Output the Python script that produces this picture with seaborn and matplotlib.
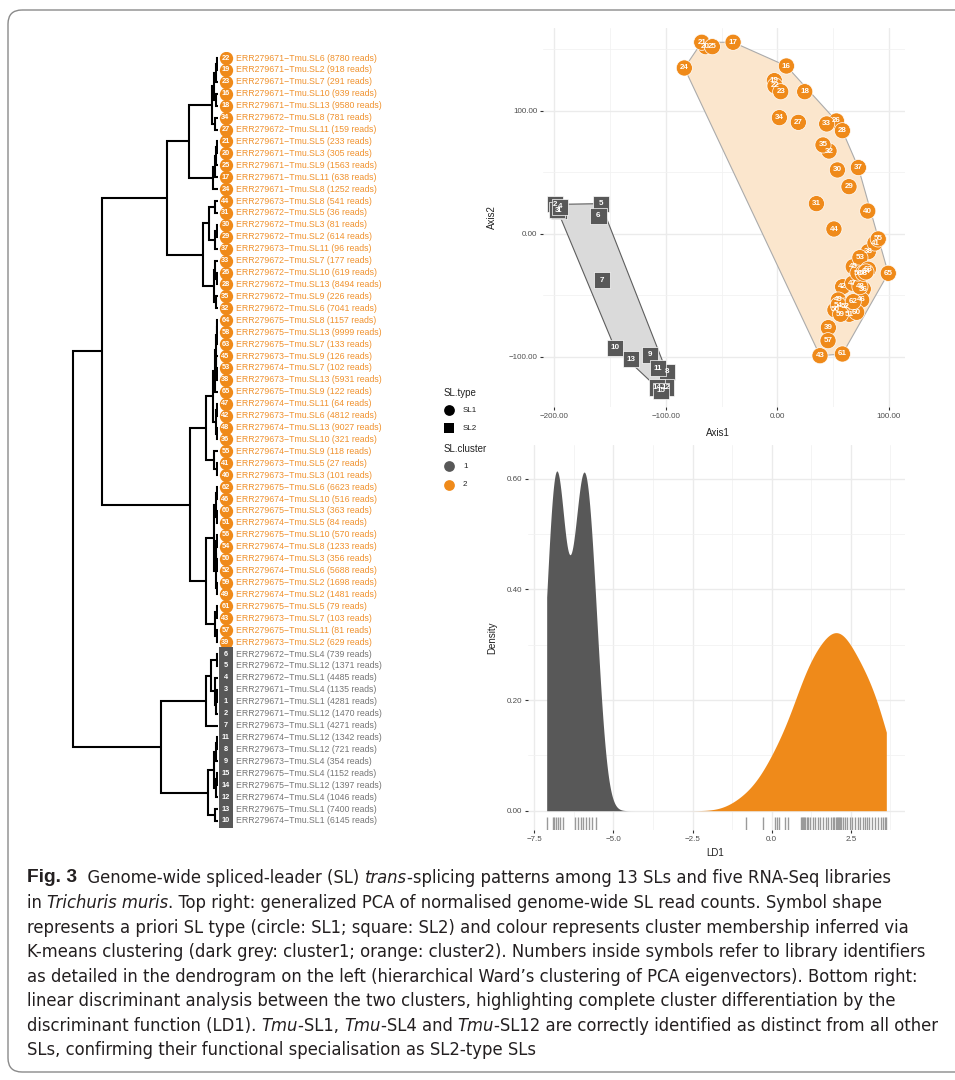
import numpy as np
import pandas as pd
import matplotlib
matplotlib.use('Agg')
import matplotlib.pyplot as plt
import seaborn as sns
from matplotlib import font_manager
from matplotlib.font_manager import FontProperties
from matplotlib.patches import FancyBboxPatch, Polygon

# ---------------- data ----------------
# dendrogram leaves, top to bottom
leaf_ids = [22, 19, 23, 16, 18, 34, 27, 21, 20, 25, 17, 24, 44, 31, 30, 29, 37,
            33, 26, 28, 35, 32, 64, 58, 63, 45, 53, 38, 65, 47, 42, 48, 36, 55,
            41, 40, 62, 46, 60, 51, 56, 54, 50, 52, 59, 49, 61, 43, 57, 39,
            6, 5, 4, 3, 1, 2, 7, 11, 8, 9, 15, 14, 12, 13, 10]
leaf_run = [71, 71, 71, 71, 71, 72, 72, 71, 71, 71, 71, 71, 73, 72, 72, 72, 73,
            72, 72, 72, 72, 72, 75, 75, 75, 73, 74, 73, 75, 74, 73, 74, 73, 74,
            73, 73, 75, 74, 75, 74, 75, 74, 74, 74, 75, 74, 75, 73, 75, 73,
            72, 72, 72, 71, 71, 71, 73, 74, 73, 73, 75, 75, 74, 75, 74]
leaf_sl = [6, 2, 7, 10, 13, 8, 11, 5, 3, 9, 11, 8, 8, 5, 3, 2, 11,
           7, 10, 13, 9, 6, 8, 13, 7, 9, 7, 13, 9, 11, 6, 13, 10, 9,
           5, 3, 6, 10, 3, 5, 10, 8, 3, 6, 2, 2, 5, 7, 11, 2,
           4, 12, 1, 4, 1, 12, 1, 12, 12, 4, 4, 12, 4, 1, 1]
leaf_reads = [8780, 918, 291, 939, 9580, 781, 159, 233, 305, 1563, 638, 1252,
              541, 36, 81, 614, 96, 177, 619, 8494, 226, 7041,
              1157, 9999, 133, 126, 102, 5931, 122, 64, 4812, 9027, 321, 118, 27, 101,
              6623, 516, 363, 84, 570, 1233, 356, 5688, 1698, 1481, 79, 103, 81, 629,
              739, 1371, 4485, 1135, 4281, 1470, 4271, 1342, 721, 354, 1152, 1397,
              1046, 7400, 6145]

# Ward merges: (node, left, right, height)
merges = [
    ('a', 22, 19, 1.0), ('b', 'a', 23, 1.8), ('c', 16, 18, 2.5), ('d', 'b', 'c', 4.0),
    ('e', 34, 27, 3.0), ('A1', 'd', 'e', 6.3),
    ('f', 21, 20, 1.0), ('g', 'f', 25, 1.8), ('h', 'g', 17, 2.8), ('A2', 'h', 24, 5.0),
    ('A', 'A1', 'A2', 29.0),
    ('i', 44, 31, 3.0), ('j', 30, 29, 1.5), ('k', 'j', 37, 3.5), ('B1', 'i', 'k', 9.3),
    ('l', 26, 28, 1.5), ('m', 33, 'l', 3.0), ('n', 35, 32, 2.0), ('B2', 'm', 'n', 4.3),
    ('B', 'B1', 'B2', 15.3), ('AB', 'A', 'B', 51.3),
    ('o', 64, 58, 1.0), ('p', 'o', 63, 1.5), ('q', 53, 38, 1.0), ('r', 45, 'q', 1.8),
    ('s', 'p', 'r', 2.5), ('t', 's', 65, 3.5),
    ('u', 47, 42, 1.5), ('v', 48, 36, 1.2), ('w', 'u', 'v', 2.5), ('C1a', 't', 'w', 5.5),
    ('x', 41, 40, 1.5), ('C1b', 55, 'x', 3.7), ('C1', 'C1a', 'C1b', 12.3),
    ('y', 62, 46, 1.0), ('z', 60, 51, 1.0), ('aa', 'y', 'z', 1.8), ('bb', 56, 54, 1.0),
    ('cc', 50, 52, 1.0), ('dd', 'bb', 'cc', 1.8), ('ee', 59, 49, 1.2), ('ff', 'dd', 'ee', 2.5),
    ('C2a', 'aa', 'ff', 4.5),
    ('gg', 61, 43, 1.5), ('hh', 57, 39, 1.2), ('C2b', 'gg', 'hh', 3.0), ('C2', 'C2a', 'C2b', 12.3),
    ('C', 'C1', 'C2', 28.0), ('O', 'AB', 'C', 116.3),
    ('ii', 6, 5, 1.5), ('jj', 3, 1, 1.0), ('kk', 'jj', 2, 1.8), ('ll', 4, 'kk', 3.0),
    ('G1a', 'ii', 'll', 7.0), ('G1', 'G1a', 7, 12.3),
    ('mm', 11, 8, 1.0), ('nn', 'mm', 9, 2.0), ('oo', 15, 14, 1.0), ('pp', 'oo', 12, 2.0),
    ('G2a', 'nn', 'pp', 4.0), ('qq', 13, 10, 3.0), ('G2', 'G2a', 'qq', 10.3),
    ('G', 'G1', 'G2', 57.3), ('root', 'O', 'G', 145.3),
]

# PCA coordinates, libraries 1..65
pca_ids = list(range(1, 66))
pca_x = [-196.0, -199.3, -197.2, -194.8, -158.3, -160.4, -156.9, -99.2, -114.4, -145.8,
         -107.0, -100.1, -131.5, -107.6, -104.6,
         8.1, -39.7, 24.5, -2.7, -64.2, -67.8, -2.1, 3.0, -83.4, -58.3,
         52.9, 18.8, 58.3, 64.2, 53.8, 35.0, 46.3, 44.2, 1.8, 40.9,
         77.0, 72.6, 81.5, 45.7, 81.0, 87.5, 58.5, 38.2, 50.7, 68.0,
         75.6, 67.5, 74.0, 54.6, 51.6, 64.4, 60.6, 74.0, 54.6, 90.4,
         72.2, 45.4, 77.0, 56.7, 71.1, 58.3, 68.0, 81.5, 79.4, 99.4]
pca_y = [18.5, 23.8, 19.2, 21.9, 24.4, 14.4, -37.7, -112.2, -98.6, -92.7,
         -109.5, -125.1, -101.9, -125.1, -127.8,
         136.3, 155.6, 115.4, 124.4, 152.0, 155.6, 120.1, 115.4, 134.7, 152.0,
         91.6, 90.5, 83.7, 38.2, 51.8, 24.4, 67.2, 89.2, 94.3, 72.1,
         -45.0, 53.7, -14.6, -76.4, 18.4, -7.6, -43.1, -99.2, 3.8, -26.8,
         -53.9, -40.3, -43.1, -53.9, -62.0, -65.5, -58.8, -19.5, -58.0, -4.3,
         -32.0, -87.0, -32.2, -65.5, -63.9, -97.8, -55.3, -28.9, -31.1, -32.2]

# LDA scores (rug)
ld1_cluster1 = [-7.11, -6.92, -6.87, -6.82, -6.76, -6.69, -6.60,
                -6.22, -6.12, -6.03, -5.95, -5.87, -5.78, -5.68, -5.55]
ld1_cluster2 = [-0.82, -0.27, 0.10, 0.17, 0.24, 0.42, 0.50,
                0.92, 0.95, 0.98, 1.02, 1.06, 1.10, 1.14, 1.21, 1.29, 1.37, 1.45, 1.53, 1.61,
                1.70, 1.79, 1.87, 1.93, 1.98, 2.02, 2.05, 2.08, 2.11, 2.15, 2.19, 2.24,
                2.30, 2.38, 2.46, 2.55, 2.64,
                2.72, 2.80, 2.87, 2.94, 3.00,
                3.07, 3.16, 3.26, 3.36, 3.45, 3.52, 3.57, 3.62]
kde_adjust = [1.0, 1.15]   # bandwidth multiplier per cluster

caption_lines = [
    [('Fig. 3', 'b'), ('  Genome-wide spliced-leader (SL) ', 'n'), ('trans', 'i'),
     ('-splicing patterns among 13 SLs and five RNA-Seq libraries', 'n')],
    [('in ', 'n'), ('Trichuris muris', 'i'),
     ('. Top right: generalized PCA of normalised genome-wide SL read counts. Symbol shape', 'n')],
    [('represents a priori SL type (circle: SL1; square: SL2) and colour represents cluster membership inferred via', 'n')],
    [('K-means clustering (dark grey: cluster1; orange: cluster2). Numbers inside symbols refer to library identifiers', 'n')],
    [('as detailed in the dendrogram on the left (hierarchical Ward\u2019s clustering of PCA eigenvectors). Bottom right:', 'n')],
    [('linear discriminant analysis between the two clusters, highlighting complete cluster differentiation by the', 'n')],
    [('discriminant function (LD1). ', 'n'), ('Tmu', 'i'), ('-SL1, ', 'n'), ('Tmu', 'i'),
     ('-SL4 and ', 'n'), ('Tmu', 'i'), ('-SL12 are correctly identified as distinct from all other', 'n')],
    [('SLs, confirming their functional specialisation as SL2-type SLs', 'n')],
]

ORANGE = '#EF8A1A'
DGREY = '#585858'

sns.set_theme(style='whitegrid')
plt.rcParams['font.family'] = ['Liberation Sans', 'DejaVu Sans']


def find_condensed():
    # look for a narrow sans face (regular + italic) among installed fonts
    reg, ita = None, None
    for f in font_manager.fontManager.ttflist:
        if 'Serif' in f.name or 'Mono' in f.name:
            continue
        st = f.stretch
        cond = ('Narrow' in f.name or 'Condensed' in f.name
                or (isinstance(st, str) and 'condensed' in st)
                or (isinstance(st, (int, float)) and st < 500))
        if not cond or f.weight not in (400, 'normal', 'regular'):
            continue
        if f.style == 'normal' and reg is None:
            reg = f
    if reg is not None:
        for f in font_manager.fontManager.ttflist:
            if f.name == reg.name and f.stretch == reg.stretch and f.style in ('italic', 'oblique') \
                    and f.weight in (400, 'normal', 'regular'):
                ita = f
                break
    return reg, ita


reg_font, ita_font = find_condensed()

W, H = 955, 1080
fig = plt.figure(figsize=(W / 100, H / 100), dpi=100)
fig.patch.set_facecolor('white')


def px_axes(l, t, r, b):
    return fig.add_axes([l / W, 1 - b / H, (r - l) / W, (b - t) / H])


def gg_style(ax):
    ax.set_facecolor('none')
    for s in ax.spines.values():
        s.set_visible(False)
    ax.grid(True, which='major', color='#EBEBEB', lw=1.0)
    ax.grid(True, which='minor', color='#F2F2F2', lw=0.6)
    ax.tick_params(which='major', bottom=True, left=True, length=2.5, width=0.8,
                   color='#333333', labelsize=5.8, labelcolor='#4D4D4D', pad=1.5)
    ax.tick_params(which='minor', length=0)
    ax.set_axisbelow(True)


# overlay for frame, legend and caption
bg = px_axes(0, 0, W, H)
bg.set_xlim(0, W)
bg.set_ylim(H, 0)
bg.axis('off')
bg.set_zorder(-1)
bg.add_patch(FancyBboxPatch((8, 10), 990, 1062, boxstyle='round,pad=0,rounding_size=14',
                            fc='none', ec='#8A8A8A', lw=1.0))

# ---------------- dendrogram ----------------
n_leaf = len(leaf_ids)
dax = px_axes(68, 52.04, 218, 826.9)
dax.set_xlim(150, 0)
dax.set_ylim(n_leaf - 0.5, -0.5)
dax.axis('off')
ypos = {lid: i for i, lid in enumerate(leaf_ids)}
hpos = {lid: 0.0 for lid in leaf_ids}
for name, left, right, h in merges:
    yl, yr = ypos[left], ypos[right]
    dax.plot([hpos[left], h, h, hpos[right]], [yl, yl, yr, yr], color='black', lw=1.5,
             solid_joinstyle='miter')
    ypos[name] = (yl + yr) / 2
    hpos[name] = h

lax = px_axes(218, 52.04, 420, 826.9)
lax.set_xlim(0, 202)
lax.set_ylim(n_leaf - 0.5, -0.5)
lax.axis('off')
for i, lid in enumerate(leaf_ids):
    grey = lid <= 15
    col = DGREY if grey else ORANGE
    lax.scatter(7.5, i, s=100 if grey else 92, marker='s' if grey else 'o', color=col,
                lw=0, zorder=2)
for i, lid in enumerate(leaf_ids):
    grey = lid <= 15
    lax.text(7.5, i, str(lid), color='white', fontsize=5.3, fontweight='bold',
             ha='center', va='center', zorder=3)
    lax.text(17.5, i, f'ERR2796{leaf_run[i]}\u2212Tmu.SL{leaf_sl[i]} ({leaf_reads[i]} reads)',
             color='#767676' if grey else '#F0922E', fontsize=6.3, ha='left',
             va='center', zorder=3)

# ---------------- PCA ----------------
pca = pd.DataFrame({'id': pca_ids, 'Axis1': pca_x, 'Axis2': pca_y})
pca['cluster'] = np.where(pca['id'] <= 15, '1', '2')
pca['type'] = np.where(pca['id'] <= 15, 'SL2', 'SL1')

pax = px_axes(543, 28, 905, 407)
gg_style(pax)
pax.set_xlim(-210.1, 114.4)
pax.set_ylim(-140.9, 167.2)
pax.set_xticks([-200, -100, 0, 100])
pax.set_xticklabels(['\u2212200.00', '\u2212100.00', '0.00', '100.00'])
pax.set_yticks([-100, 0, 100])
pax.set_yticklabels(['\u2212100.00', '0.00', '100.00'])
pax.set_xticks([-150, -50, 50], minor=True)
pax.set_yticks([-50, 50, 150], minor=True)


def convex_hull(pts):
    pts = sorted(set(pts))

    def cross(o, a, b):
        return (a[0] - o[0]) * (b[1] - o[1]) - (a[1] - o[1]) * (b[0] - o[0])
    lower, upper = [], []
    for p in pts:
        while len(lower) >= 2 and cross(lower[-2], lower[-1], p) <= 0:
            lower.pop()
        lower.append(p)
    for p in reversed(pts):
        while len(upper) >= 2 and cross(upper[-2], upper[-1], p) <= 0:
            upper.pop()
        upper.append(p)
    return lower[:-1] + upper[:-1]


for cl, fc, ec in [('1', '#DADADA', '#5E5E5E'), ('2', '#FBE6CD', '#ABABAB')]:
    sub = pca[pca['cluster'] == cl]
    hull = convex_hull(list(zip(sub['Axis1'], sub['Axis2'])))
    pax.add_patch(Polygon(hull, closed=True, fc=fc, ec=ec, lw=0.8, zorder=1))

sns.scatterplot(data=pca, x='Axis1', y='Axis2', hue='cluster', style='type',
                palette={'1': DGREY, '2': ORANGE}, markers={'SL1': 'o', 'SL2': 's'},
                s=135, edgecolor='white', linewidth=0.5, legend=False, ax=pax, zorder=3)
for _, r in pca.iterrows():
    pax.text(r['Axis1'], r['Axis2'], str(r['id']), color='white', fontsize=5.8,
             fontweight='bold', ha='center', va='center', zorder=4)
pax.set_xlabel('Axis1', fontsize=7, color='#222222')
pax.set_ylabel('Axis2', fontsize=7, color='#222222')
pax.xaxis.set_label_coords(0.483, -0.055)
pax.yaxis.set_label_coords(-0.127, 0.5)

# ---------------- legend ----------------
bg.text(444, 393, 'SL.type', fontsize=7, color='#222222', va='center')
bg.scatter([449], [410], s=60, marker='o', color='black', lw=0)
bg.text(463, 411, 'SL1', fontsize=5.8, color='#222222', va='center')
bg.scatter([449], [428], s=62, marker='s', color='black', lw=0)
bg.text(463, 429, 'SL2', fontsize=5.8, color='#222222', va='center')
bg.text(444, 449, 'SL.cluster', fontsize=7, color='#222222', va='center')
bg.scatter([449], [466], s=60, marker='o', color=DGREY, lw=0)
bg.text(463, 466, '1', fontsize=5.8, color='#222222', va='center')
bg.scatter([449], [485], s=60, marker='o', color=ORANGE, lw=0)
bg.text(463, 485, '2', fontsize=5.8, color='#222222', va='center')

# ---------------- LDA density ----------------
kax = px_axes(528, 445, 905, 830)
gg_style(kax)
kax.set_xlim(-7.70, 4.21)
kax.set_ylim(-0.0349, 0.661)
lo = min(ld1_cluster1 + ld1_cluster2)
hi = max(ld1_cluster1 + ld1_cluster2)


def nrd0_factor(v):
    v = np.asarray(v)
    sd = v.std(ddof=1)
    iqr = np.subtract(*np.percentile(v, [75, 25]))
    return 0.9 * min(sd, iqr / 1.34) / sd * len(v) ** -0.2


for vals, col, adj in [(ld1_cluster1, DGREY, kde_adjust[0]),
                       (ld1_cluster2, ORANGE, kde_adjust[1])]:
    sns.kdeplot(x=vals, ax=kax, fill=True, color=col, alpha=1, linewidth=0,
                bw_method=nrd0_factor(vals), bw_adjust=adj, cut=40, clip=(lo, hi),
                gridsize=600)
    sns.rugplot(x=vals, ax=kax, height=0.035, color='#9A9A9A', lw=0.6)
kax.set_xticks([-7.5, -5.0, -2.5, 0.0, 2.5])
kax.set_xticklabels(['\u22127.5', '\u22125.0', '\u22122.5', '0.0', '2.5'])
kax.set_yticks([0.0, 0.2, 0.4, 0.6])
kax.set_yticklabels(['0.00', '0.20', '0.40', '0.60'])
kax.set_xticks([-6.25, -3.75, -1.25, 1.25, 3.75], minor=True)
kax.set_yticks([0.1, 0.3, 0.5], minor=True)
kax.set_xlabel('LD1', fontsize=7, color='#222222')
kax.set_ylabel('Density', fontsize=7, color='#222222')
kax.xaxis.set_label_coords(0.496, -0.047)
kax.yaxis.set_label_coords(-0.082, 0.5)

# ---------------- caption ----------------
renderer = fig.canvas.get_renderer()


def cap_props(st, size):
    if st == 'b':
        return FontProperties(family=['Liberation Sans', 'DejaVu Sans'], weight='bold',
                              size=size * 1.05)
    if st == 'i':
        if ita_font is not None:
            return FontProperties(fname=ita_font.fname, size=size)
        if reg_font is not None:
            return FontProperties(fname=reg_font.fname, size=size)
        return FontProperties(family=['Liberation Sans', 'DejaVu Sans'], style='italic', size=size)
    if reg_font is not None:
        return FontProperties(fname=reg_font.fname, size=size)
    return FontProperties(family=['Liberation Sans', 'DejaVu Sans'], size=size)


def draw_line(y, runs, size, keep=True):
    x = 27
    made = []
    for txt, st in runs:
        t = bg.text(x, y, txt, fontproperties=cap_props(st, size), color='#231F20',
                    va='center')
        x += t.get_window_extent(renderer=renderer).width
        made.append(t)
    if not keep:
        for t in made:
            t.remove()
    return x


base = 13.0
end = draw_line(878, caption_lines[0], base, keep=False)
cap_size = min(base * (892 - 27) / (end - 27), 14.0)
line_y = [878, 903, 928, 952, 977, 1001, 1026, 1050]
for ly, runs in zip(line_y, caption_lines):
    draw_line(ly, runs, cap_size)

fig.savefig('out.png', dpi=100)
